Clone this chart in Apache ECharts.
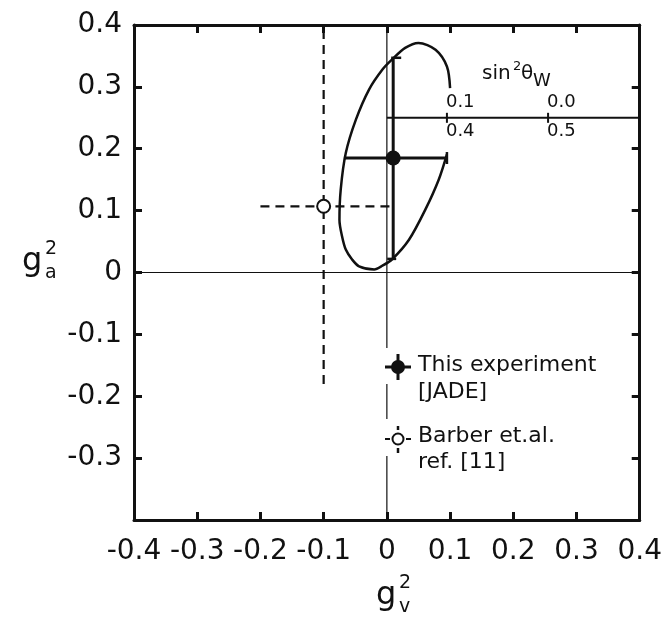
<!DOCTYPE html>
<html><head><meta charset="utf-8">
<script src="https://cdn.jsdelivr.net/npm/echarts@6/dist/echarts.min.js"></script>
<style>html,body{margin:0;padding:0;background:#fff}#c{width:665px;height:625px}</style>
</head><body><div id="c"></div>
<script>
// ---- data ----
const xTickLabels = ['-0.4','-0.3','-0.2','-0.1','0','0.1','0.2','0.3','0.4'];
const yTickLabels = ['','-0.3','-0.2','-0.1','0','0.1','0.2','0.3','0.4'];

const jadePoint = [0.010, 0.185];
const jadeXErr  = [-0.068, 0.095];
const jadeYErr  = [0.022, 0.347];

const barberPoint = [-0.100, 0.107];
const barberXErr  = [-0.200, 0.005];
const barberYErr  = [-0.180, 0.398];

// ellipse contour (open at the right where the sin^2 scale crosses it)
const ellipseX = [0.095, 0.082, 0.061, 0.035, 0.008, -0.007, -0.020, -0.044, -0.055, -0.065, -0.071, -0.075, -0.073, -0.065, -0.049, -0.028, -0.007, 0.008, 0.029, 0.050, 0.077, 0.095, 0.100];
const ellipseY = [0.191, 0.150, 0.102, 0.053, 0.021, 0.011, 0.005, 0.010, 0.021, 0.037, 0.059, 0.085, 0.134, 0.193, 0.247, 0.296, 0.328, 0.344, 0.363, 0.371, 0.360, 0.333, 0.298];

// sin^2 theta_W scale
const sinScaleY = 0.25;
const sinScaleX = [0.0, 0.4];
const sinTickX = [0.095, 0.255];
const sinTickUpper = ['0.1', '0.0'];
const sinTickLower = ['0.4', '0.5'];

// ---- chart ----
const INK = '#111';
const FONT = 'DejaVu Sans';
const chart = echarts.init(document.getElementById('c'), null, {renderer: 'canvas'});

function lab(v, arr) {
  const i = Math.round(v * 10) + 4;
  return arr[i] !== undefined ? arr[i] : '';
}
const axisCommon = {
  type: 'value', min: -0.4, max: 0.4, interval: 0.1,
  axisLine: {show: true, onZero: false, lineStyle: {color: INK, width: 3}},
  axisTick: {show: true, inside: true, length: 8, lineStyle: {color: INK, width: 3}},
  splitLine: {show: false}
};

function errorBars(point, xErr, yErr, dashed, caps) {
  return {
    type: 'custom',
    data: [[point[0], point[1], xErr[0], xErr[1], yErr[0], yErr[1]]],
    z: 3,
    renderItem: function (params, api) {
      const x = api.value(0), y = api.value(1);
      const l = api.coord([api.value(2), y]);
      const r = api.coord([api.value(3), y]);
      const b = api.coord([x, api.value(4)]);
      const t = api.coord([x, api.value(5)]);
      const style = {stroke: INK, lineWidth: dashed ? 2.2 : 3, lineDash: dashed ? [9, 6] : null, fill: null};
      const ch = [
        {type: 'line', shape: {x1: l[0], y1: l[1], x2: r[0], y2: r[1]}, style: style},
        {type: 'line', shape: {x1: b[0], y1: b[1], x2: t[0], y2: t[1]}, style: style}
      ];
      if (caps) {
        const cs = {stroke: INK, lineWidth: 2.5};
        ch.push({type: 'line', shape: {x1: r[0], y1: r[1] - 6, x2: r[0], y2: r[1] + 6}, style: cs});
        ch.push({type: 'line', shape: {x1: t[0] - 2, y1: t[1], x2: t[0] + 8, y2: t[1]}, style: cs});
        ch.push({type: 'line', shape: {x1: b[0] - 6, y1: b[1], x2: b[0] + 3, y2: b[1]}, style: cs});
      }
      return {type: 'group', children: ch};
    }
  };
}

const sinScaleSeries = {
  type: 'custom',
  data: sinTickX.map((x, i) => [x, sinScaleY, i]),
  z: 3,
  renderItem: function (params, api) {
    const p = api.coord([api.value(0), api.value(1)]);
    const i = api.value(2);
    return {type: 'group', children: [
      {type: 'line', shape: {x1: p[0], y1: p[1] - 5, x2: p[0], y2: p[1] + 5}, style: {stroke: INK, lineWidth: 2}},
      {type: 'text', x: p[0] - 1, y: p[1] - 6, style: {text: sinTickUpper[i], font: '18px "DejaVu Sans"', fill: INK, align: 'left', verticalAlign: 'bottom'}},
      {type: 'text', x: p[0] - 1, y: p[1] + 5, style: {text: sinTickLower[i], font: '18px "DejaVu Sans"', fill: INK, align: 'left', verticalAlign: 'top'}}
    ]};
  }
};

const option = {
  backgroundColor: '#fff',
  animation: false,
  grid: {left: 134, right: 23, top: 25, bottom: 105, containLabel: false},
  xAxis: [
    Object.assign({}, axisCommon, {position: 'bottom',
      axisLabel: {show: true, margin: 18, fontSize: 28, color: INK, fontFamily: FONT, formatter: v => lab(v, xTickLabels), showMinLabel: true, showMaxLabel: true}}),
    Object.assign({}, axisCommon, {position: 'top', axisLabel: {show: false}})
  ],
  yAxis: [
    Object.assign({}, axisCommon, {position: 'left',
      axisLabel: {show: true, margin: 12, fontSize: 28, color: INK, fontFamily: FONT, formatter: v => lab(v, yTickLabels), showMinLabel: true, showMaxLabel: true}}),
    Object.assign({}, axisCommon, {position: 'right', axisLabel: {show: false}})
  ],
  series: [
    // zero lines
    {type: 'line', data: [[-0.4, 0], [0.4, 0]], symbol: 'none', lineStyle: {color: INK, width: 1.2}, z: 1, silent: true},
    {type: 'line', data: [[0, -0.4], [0, 0.4]], symbol: 'none', lineStyle: {color: INK, width: 1.2}, z: 1, silent: true},
    // sin^2 scale line
    {type: 'line', data: sinScaleX.map(x => [x, sinScaleY]), symbol: 'none', lineStyle: {color: INK, width: 2}, z: 2, silent: true},
    sinScaleSeries,
    // ellipse
    {type: 'line', data: ellipseX.map((x, i) => [x, ellipseY[i]]), smooth: 0.3, symbol: 'none', lineStyle: {color: INK, width: 2.5}, z: 2, silent: true},
    errorBars(barberPoint, barberXErr, barberYErr, true, false),
    errorBars(jadePoint, jadeXErr, jadeYErr, false, true),
    {type: 'scatter', data: [barberPoint], symbol: 'circle', symbolSize: 13, itemStyle: {color: '#fff', borderColor: INK, borderWidth: 2, opacity: 1}, z: 5},
    {type: 'scatter', data: [jadePoint], symbol: 'circle', symbolSize: 15, itemStyle: {color: INK, opacity: 1}, z: 5}
  ],
  graphic: [
    // axis names
    {type: 'text', z: 100, left: 22, top: 246, style: {text: 'g', font: '32px "DejaVu Sans"', fill: INK}},
    {type: 'text', z: 100, left: 45, top: 240, style: {text: '2', font: '19px "DejaVu Sans"', fill: INK}},
    {type: 'text', z: 100, left: 45, top: 264, style: {text: 'a', font: '19px "DejaVu Sans"', fill: INK}},
    {type: 'text', z: 100, left: 376, top: 580, style: {text: 'g', font: '32px "DejaVu Sans"', fill: INK}},
    {type: 'text', z: 100, left: 399, top: 574, style: {text: '2', font: '19px "DejaVu Sans"', fill: INK}},
    {type: 'text', z: 100, left: 399, top: 598, style: {text: 'v', font: '19px "DejaVu Sans"', fill: INK}},
    // sin^2 theta_W title
    {type: 'text', z: 100, left: 482, top: 64, style: {text: 'sin', font: '20px "DejaVu Sans"', fill: INK}},
    {type: 'text', z: 100, left: 513, top: 60, style: {text: '2', font: '13px "DejaVu Sans"', fill: INK}},
    {type: 'text', z: 100, left: 521, top: 64, style: {text: 'θ', font: '20px "DejaVu Sans"', fill: INK}},
    {type: 'text', z: 100, left: 533, top: 72, style: {text: 'W', font: '18px "DejaVu Sans"', fill: INK}},
    // legend: gaps in the x=0 line
    {type: 'rect', z: 99, shape: {x: 383, y: 348, width: 9, height: 36}, style: {fill: '#fff'}},
    {type: 'rect', z: 99, shape: {x: 383, y: 419, width: 9, height: 37}, style: {fill: '#fff'}},
    // legend marker 1
    {type: 'line', z: 100, shape: {x1: 385, y1: 367, x2: 411, y2: 367}, style: {stroke: INK, lineWidth: 3}},
    {type: 'line', z: 100, shape: {x1: 398, y1: 354, x2: 398, y2: 380}, style: {stroke: INK, lineWidth: 3}},
    {type: 'circle', z: 100, shape: {cx: 398, cy: 367, r: 7}, style: {fill: INK}},
    {type: 'text', z: 100, left: 418, top: 354, style: {text: 'This experiment', font: '22px "DejaVu Sans"', fill: INK}},
    {type: 'text', z: 100, left: 418, top: 381, style: {text: '[JADE]', font: '22px "DejaVu Sans"', fill: INK}},
    // legend marker 2
    {type: 'line', z: 100, shape: {x1: 385, y1: 439, x2: 390, y2: 439}, style: {stroke: INK, lineWidth: 2}},
    {type: 'line', z: 100, shape: {x1: 406, y1: 439, x2: 411, y2: 439}, style: {stroke: INK, lineWidth: 2}},
    {type: 'line', z: 100, shape: {x1: 398, y1: 426, x2: 398, y2: 430}, style: {stroke: INK, lineWidth: 2.5}},
    {type: 'line', z: 100, shape: {x1: 398, y1: 448, x2: 398, y2: 453}, style: {stroke: INK, lineWidth: 2.5}},
    {type: 'circle', z: 100, shape: {cx: 398, cy: 439, r: 5.5}, style: {fill: '#fff', stroke: INK, lineWidth: 2}},
    {type: 'text', z: 100, left: 418, top: 425, style: {text: 'Barber et.al.', font: '22px "DejaVu Sans"', fill: INK}},
    {type: 'text', z: 100, left: 418, top: 451, style: {text: 'ref. [11]', font: '22px "DejaVu Sans"', fill: INK}}
  ]
};
chart.setOption(option);
</script>
</body></html>
